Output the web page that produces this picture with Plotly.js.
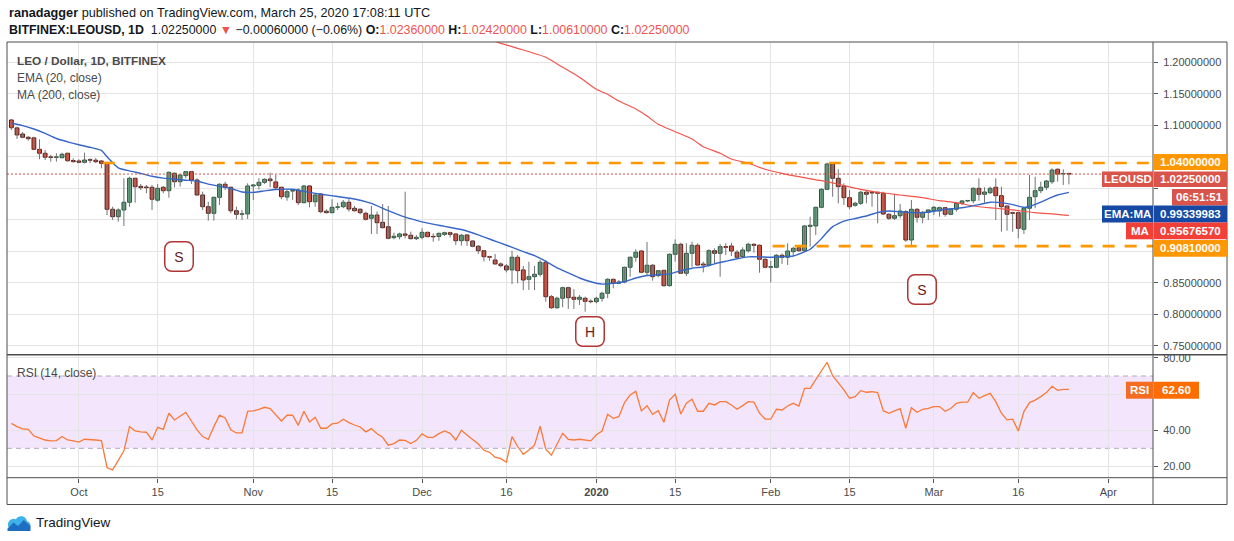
<!DOCTYPE html>
<html><head><meta charset="utf-8">
<script src="https://cdn.plot.ly/plotly-3.0.1.min.js"></script>
<style>html,body{margin:0;padding:0;background:#fff;}#wrap{position:relative;width:1234px;height:541px;overflow:hidden}#logo{position:absolute;left:7px;top:514px}</style>
</head><body>
<div id="wrap"><div id="chart"></div>
<svg id="logo" width="24" height="17" viewBox="0 0 24 17"><path d="M4.6 16 H19 a4.4 4.4 0 0 0 0.9-8.7 A6 6 0 0 0 8.8 5.2 A4.7 4.7 0 0 0 4.6 16 Z" fill="#3fb2e9"/><path d="M0.5 14.5 L6.5 8.5 L11 12 L16.8 6 L23.5 12 L23.5 17 L0.5 17 Z" fill="#1d6ec0"/></svg>
</div>
<script>
// ---------- data ----------
const startDate = '2019-09-19';   // first daily candle
const openP = [1.1084,1.0958,1.0861,1.0809,1.0800,1.0618,1.0555,1.0495,1.0490,1.0485,
1.0555,1.0440,1.0433,1.0412,1.0448,1.0445,1.0433,1.0405,0.9666,0.9548,
0.9655,0.9777,1.0158,1.0030,1.0020,1.0015,0.9810,1.0015,0.9961,1.0237,
1.0104,1.0200,1.0263,1.0131,0.9893,0.9707,0.9602,0.9856,1.0063,1.0015,
0.9643,0.9586,0.9592,1.0036,1.0045,1.0094,1.0147,1.0100,1.0015,0.9860,
0.9955,0.9972,0.9771,1.0036,0.9786,0.9909,0.9635,0.9612,0.9697,0.9707,
0.9777,0.9682,0.9666,0.9602,0.9523,0.9575,0.9459,0.9389,0.9215,0.9231,
0.9274,0.9253,0.9199,0.9221,0.9300,0.9231,0.9234,0.9268,0.9294,0.9274,
0.9167,0.9258,0.9162,0.9079,0.9008,0.8913,0.8861,0.8798,0.8766,0.8703,
0.8904,0.8703,0.8554,0.8596,0.8634,0.8824,0.8278,0.8103,0.8253,0.8421,
0.8269,0.8237,0.8253,0.8205,0.8199,0.8253,0.8332,0.8554,0.8491,0.8512,
0.8745,0.8904,0.9004,0.8666,0.8777,0.8612,0.8697,0.8453,0.8951,0.9110,
0.8650,0.8967,0.9094,0.8797,0.8781,0.9008,0.8967,0.9072,0.9083,0.8983,
0.8913,0.9008,0.9110,0.9094,0.8872,0.8745,0.8745,0.8935,0.8904,0.8993,
0.9056,0.9008,0.9395,0.9401,0.9697,0.9983,1.0385,1.0158,1.0036,0.9850,
0.9729,0.9761,0.9936,0.9929,0.9936,0.9920,0.9586,0.9523,0.9564,0.9628,
0.9178,0.9666,0.9539,0.9618,0.9643,0.9640,0.9691,0.9586,0.9666,0.9761,
0.9798,0.9802,0.9999,0.9904,0.9929,1.0015,0.9882,0.9718,0.9612,0.9612,
0.9348,0.9682,0.9866,0.9961,1.0015,1.0104,1.0301,1.0226,1.0236];
const highP = [1.1100,1.0977,1.0893,1.0830,1.0818,1.0777,1.0607,1.0528,1.0555,1.0565,
1.0565,1.0476,1.0460,1.0565,1.0476,1.0480,1.0448,1.0422,0.9707,0.9682,
1.0158,1.0183,1.0165,1.0067,1.0052,1.0052,1.0067,1.0036,1.0263,1.0253,
1.0226,1.0274,1.0274,1.0158,0.9945,0.9786,0.9866,1.0078,1.0104,1.0025,
0.9707,0.9655,1.0078,1.0067,1.0158,1.0158,1.0247,1.0210,1.0025,0.9983,
0.9983,0.9999,1.0052,1.0052,0.9920,0.9920,0.9666,0.9825,0.9771,0.9813,
0.9840,0.9718,0.9682,0.9628,0.9718,0.9628,0.9750,0.9718,0.9294,0.9294,
0.9945,0.9310,0.9258,0.9364,0.9310,0.9284,0.9294,0.9310,0.9310,0.9284,
0.9274,0.9274,0.9178,0.9099,0.9019,0.8929,0.8956,0.8823,0.8798,0.9008,
0.8940,0.8766,0.8834,0.8766,0.8861,0.8861,0.8305,0.8278,0.8437,0.8437,
0.8396,0.8305,0.8278,0.8237,0.8278,0.8358,0.8570,0.8564,0.8543,0.8755,
0.8914,0.9031,0.9019,0.9147,0.8798,0.8702,0.8702,0.8967,0.9189,0.9135,
0.9126,0.9151,0.9126,0.8834,0.9031,0.9046,0.9115,0.9126,0.9135,0.9019,
0.9062,0.9135,0.9126,0.9110,0.8888,0.8845,0.8956,0.8967,0.9126,0.9072,
0.9072,0.9417,0.9548,0.9707,0.9999,1.0406,1.0406,1.0301,1.0078,0.9972,
0.9786,0.9961,0.9961,0.9945,0.9945,0.9945,0.9602,0.9893,0.9750,0.9655,
0.9813,0.9682,0.9639,0.9666,0.9718,0.9707,0.9697,0.9682,0.9786,0.9813,
0.9813,1.0015,1.0158,1.0015,1.0025,1.0158,1.0025,0.9718,0.9628,0.9628,
0.9697,1.0210,1.0183,1.0104,1.0131,1.0316,1.0316,1.0301,1.0242];
const lowP = [1.0925,1.0782,1.0793,1.0755,1.0607,1.0460,1.0448,1.0422,1.0422,1.0476,
1.0422,1.0406,1.0396,1.0396,1.0396,1.0400,1.0317,0.9575,0.9496,0.9469,
0.9401,0.9707,0.9771,0.9972,0.9920,0.9655,0.9786,0.9920,0.9850,1.0015,
1.0025,1.0158,1.0068,0.9877,0.9655,0.9485,0.9485,0.9734,0.9972,0.9602,
0.9507,0.9496,0.9512,0.9813,0.9983,1.0067,1.0015,0.9972,0.9825,0.9802,
0.9813,0.9734,0.9761,0.9697,0.9707,0.9602,0.9602,0.9602,0.9655,0.9682,
0.9628,0.9628,0.9586,0.9485,0.9274,0.9274,0.9364,0.9189,0.9189,0.9189,
0.9205,0.9189,0.9178,0.9189,0.9221,0.9151,0.9167,0.9242,0.9221,0.9099,
0.9088,0.9083,0.9063,0.8956,0.8839,0.8850,0.8787,0.8744,0.8664,0.8480,
0.8491,0.8384,0.8384,0.8384,0.8596,0.8199,0.8083,0.8083,0.8110,0.8083,
0.8083,0.8146,0.8040,0.8173,0.8173,0.8199,0.8253,0.8411,0.8475,0.8490,
0.8596,0.8834,0.8650,0.8607,0.8532,0.8586,0.8437,0.8437,0.8834,0.8639,
0.8607,0.8754,0.8766,0.8664,0.8755,0.8798,0.8596,0.8940,0.8924,0.8888,
0.8904,0.8977,0.8977,0.8659,0.8729,0.8506,0.8729,0.8798,0.8781,0.8924,
0.8993,0.8993,0.9072,0.9258,0.9682,0.9972,0.9866,0.9761,0.9734,0.9666,
0.9707,0.9734,0.9761,0.9707,0.9443,0.9575,0.9496,0.9496,0.9523,0.9151,
0.9088,0.9453,0.9443,0.9496,0.9575,0.9548,0.9548,0.9575,0.9628,0.9734,
0.9777,0.9761,0.9802,0.9771,0.9909,0.9496,0.9310,0.9326,0.9310,0.9205,
0.9274,0.9496,0.9682,0.9920,0.9972,1.0068,1.0104,1.0052,1.0061];
const closeP = [1.0961,1.0846,1.0809,1.0787,1.0618,1.0555,1.0492,1.0490,1.0492,1.0539,
1.0437,1.0422,1.0412,1.0448,1.0445,1.0422,1.0396,0.9666,0.9548,0.9655,
0.9777,1.0158,1.0025,1.0009,1.0009,0.9825,0.9999,0.9961,1.0253,1.0104,
1.0210,1.0263,1.0131,0.9893,0.9707,0.9602,0.9856,1.0063,1.0015,0.9643,
0.9586,0.9592,1.0036,1.0052,1.0094,1.0142,1.0120,1.0009,0.9866,0.9945,
0.9961,0.9771,1.0036,0.9786,0.9893,0.9628,0.9612,0.9697,0.9700,0.9777,
0.9670,0.9643,0.9612,0.9507,0.9575,0.9453,0.9374,0.9205,0.9237,0.9274,
0.9253,0.9199,0.9221,0.9300,0.9231,0.9228,0.9284,0.9294,0.9268,0.9167,
0.9253,0.9167,0.9079,0.9008,0.8913,0.8905,0.8798,0.8771,0.8703,0.8904,
0.8691,0.8543,0.8596,0.8634,0.8824,0.8278,0.8103,0.8253,0.8421,0.8262,
0.8237,0.8269,0.8205,0.8199,0.8253,0.8332,0.8554,0.8491,0.8512,0.8745,
0.8904,0.8983,0.8666,0.8777,0.8596,0.8691,0.8453,0.8951,0.9110,0.8650,
0.8967,0.9094,0.8781,0.8781,0.9008,0.8967,0.9072,0.9062,0.9004,0.8904,
0.9019,0.9110,0.9094,0.8872,0.8745,0.8755,0.8935,0.8904,0.9004,0.9046,
0.9008,0.9401,0.9412,0.9697,0.9983,1.0385,1.0158,1.0025,0.9850,0.9707,
0.9761,0.9936,0.9904,0.9925,0.9920,0.9591,0.9523,0.9564,0.9639,0.9178,
0.9666,0.9539,0.9618,0.9655,0.9697,0.9691,0.9586,0.9666,0.9761,0.9798,
0.9802,0.9999,0.9904,0.9940,0.9999,0.9882,0.9707,0.9586,0.9602,0.9364,
0.9682,0.9856,0.9961,1.0015,1.0115,1.0289,1.0226,1.0231,1.0225];
const rsiVal = [43.8,42.0,40.7,40.5,36.9,35.6,34.6,34.1,34.3,36.5,
34.6,34.1,33.4,35.0,35.0,34.6,34.3,19.4,18.1,23.6,
28.6,42.0,39.6,39.1,38.9,34.6,41.6,40.5,49.4,45.7,
47.9,49.9,45.1,40.2,36.5,35.0,42.0,48.3,46.8,40.2,
38.5,38.5,50.5,50.7,51.6,52.7,52.0,48.5,45.1,48.3,
48.3,42.7,50.5,44.6,47.2,41.1,41.1,43.5,43.9,46.1,
44.2,42.9,41.8,39.1,40.9,38.0,36.1,31.7,32.6,34.6,
34.4,32.6,34.4,38.0,36.1,36.1,38.1,39.6,38.3,34.6,
40.0,37.4,35.0,32.4,28.9,27.8,25.1,24.3,22.3,36.5,
31.0,26.7,29.1,31.7,42.2,29.5,26.2,31.9,38.3,35.0,
34.6,35.0,34.6,34.1,37.5,39.6,48.8,46.6,47.5,55.3,
59.5,61.5,50.7,53.6,48.8,50.8,44.4,56.7,59.9,49.0,
54.9,57.1,50.5,50.5,54.9,54.0,55.8,55.8,54.0,51.6,
53.6,55.8,55.5,49.4,46.2,46.1,51.6,51.2,53.4,54.9,
53.4,63.2,63.2,67.8,72.8,77.6,70.2,66.5,62.3,57.7,
58.6,61.9,61.0,61.3,60.8,50.8,49.4,50.7,52.0,41.1,
52.5,49.9,51.6,52.1,53.1,53.1,50.5,52.0,54.9,55.5,
55.5,60.8,57.7,59.1,60.4,55.8,49.4,45.7,46.1,39.6,
50.3,55.3,56.7,58.6,60.8,64.3,62.1,62.6,62.6];
// EMA(20): day number (0 = startDate) and value
const emaDay = [0,2,4,6,8,10,12,14,16,17,19,21,23,25,27,29,31,33,35,37,39,41,43,45,47,50,52,55,58,61,64,67,70,72,74,77,80,83,86,88,91,93,95,97,99,101,103,105,107,109,111,113,115,117,119,121,123,125,127,129,131,133,135,137,139,141,142,143,144,145,146,147,148,150,152,154,156,158,160,162,164,166,168,170,172,174,176,178,180,181,183,185,186,188];
const emaVal = [1.1031,1.0995,1.0941,1.0872,1.0790,1.0737,1.0690,1.0650,1.0600,1.0501,1.0325,1.0275,1.0237,1.0190,1.0160,1.0142,1.0128,1.0115,1.0065,1.0030,0.9995,0.9940,0.9935,0.9958,0.9980,0.9983,0.9950,0.9905,0.9868,0.9830,0.9760,0.9643,0.9540,0.9490,0.9445,0.9395,0.9345,0.9260,0.9160,0.9095,0.8993,0.8930,0.8840,0.8735,0.8655,0.8575,0.8515,0.8478,0.8491,0.8516,0.8575,0.8615,0.8625,0.8640,0.8690,0.8730,0.8750,0.8800,0.8840,0.8880,0.8910,0.8910,0.8905,0.8913,0.8924,0.8990,0.9031,0.9110,0.9200,0.9300,0.9390,0.9440,0.9478,0.9520,0.9560,0.9615,0.9639,0.9628,0.9612,0.9612,0.9635,0.9665,0.9680,0.9705,0.9740,0.9777,0.9772,0.9740,0.9697,0.9710,0.9780,0.9860,0.9893,0.99339983];
// MA(200)
const maDay = [86,87,90,95,98,101,104,106,108,111,113,115,118,121,123,126,128,131,134,137,140,144,147,151,154,158,162,165,168,171,175,178,182,186,188];
const maVal = [1.2330,1.2301,1.2222,1.2079,1.1920,1.1762,1.1571,1.1492,1.1385,1.1258,1.1147,1.1015,1.0898,1.0782,1.0660,1.0555,1.0464,1.0396,1.0301,1.0237,1.0183,1.0120,1.0063,0.9983,0.9936,0.9893,0.9850,0.9802,0.9771,0.9718,0.9682,0.9655,0.9612,0.9586,0.9567657];
const levelPrices = [1.04, 0.9081];                    // horizontal support / resistance
const levelStart = ['2019-10-05 06:00', '2020-02-01 08:00'];
const patternText = ['S', 'H', 'S'];
const patternDate = ['2019-10-18 17:00', '2019-12-30 21:00', '2020-02-27 21:00'];
const patternPrice = [0.891, 0.7733, 0.840];
const tickDates = ['2019-10-01','2019-10-15','2019-11-01','2019-11-15','2019-12-01','2019-12-16','2020-01-01','2020-01-15','2020-02-01','2020-02-15','2020-03-01','2020-03-16','2020-04-01'];
const tickText = ['Oct','15','Nov','15','Dec','16','<b>2020</b>','15','Feb','15','Mar','16','Apr'];
const priceTicks = [0.75,0.80,0.85,0.90,0.95,1.00,1.05,1.10,1.15,1.20];
const priceTickText = ['0.75000000','0.80000000','0.85000000','','','','','1.10000000','1.15000000','1.20000000']; // the rest sit under the value labels
const rsiTicks = [20,40,60,80];
const rsiTickText = ['20.00','40.00','','80.00'];
const rsiLevels = [30, 70];
const countdown = '06:51:51';

// ---------- helpers ----------
function dayToDate(d){
  const t = Date.UTC(2019,8,19) + d*86400000;
  const z = new Date(t);
  return z.getUTCFullYear()+'-'+String(z.getUTCMonth()+1).padStart(2,'0')+'-'+String(z.getUTCDate()).padStart(2,'0');
}
const n = closeP.length;
const dates = closeP.map((_,i)=>dayToDate(i));
const PL=7, PW=1146, PT=42, PH=436;
const px = x => (x-PL)/PW;
const py = y => (PT+PH-y)/PH;
const xRange = ['2019-09-18 05:14','2020-04-08 22:48'];
const UP='#6ba583', DN='#d75442', UPB='#225437', DNB='#5b1a13';
const f8 = v => v.toFixed(8);

const wx=[], wy=[];
for(let i=0;i<n;i++){ wx.push(dates[i],dates[i],null); wy.push(lowP[i],highP[i],null); }
const base=[], hgt=[], fc=[], lc=[];
for(let i=0;i<n;i++){
  const up = closeP[i]>=openP[i];
  base.push(Math.min(openP[i],closeP[i]));
  hgt.push(Math.max(Math.abs(closeP[i]-openP[i]),0.0008));
  fc.push(up?UP:DN); lc.push(up?UPB:DNB);
}

const traces = [
  {type:'scatter',mode:'lines',x:wx,y:wy,xaxis:'x',yaxis:'y',line:{color:'#737375',width:1},hoverinfo:'skip'},
  {type:'bar',x:dates,y:hgt,base:base,xaxis:'x',yaxis:'y',width:0.68*86400000,
   marker:{color:fc,line:{color:lc,width:1}},hoverinfo:'skip'},
  {type:'scatter',mode:'lines',x:maDay.map(dayToDate),y:maVal,xaxis:'x',yaxis:'y',
   line:{color:'#f2544c',width:1.2,shape:'spline',smoothing:0.6},hoverinfo:'skip'},
  {type:'scatter',mode:'lines',x:emaDay.map(dayToDate),y:emaVal,xaxis:'x',yaxis:'y',
   line:{color:'#3766c9',width:1.4,shape:'spline',smoothing:0.5},hoverinfo:'skip'},
  {type:'scatter',mode:'lines',x:dates,y:rsiVal,xaxis:'x2',yaxis:'y2',
   line:{color:'#f97a38',width:1.3},hoverinfo:'skip'}
];

const shapes = [];
shapes.push({type:'rect',xref:'paper',yref:'y2',x0:0,x1:1,y0:rsiLevels[0],y1:rsiLevels[1],fillcolor:'rgba(155,47,230,0.12)',line:{width:0},layer:'between'});
rsiLevels.forEach(v=>shapes.push({type:'line',xref:'paper',yref:'y2',x0:0,x1:1,y0:v,y1:v,line:{color:'#b3a8ba',width:1,dash:'5px,4px'},layer:'between'}));
levelPrices.forEach((v,i)=>shapes.push({type:'line',xref:'x',yref:'y',x0:levelStart[i],x1:xRange[1],y0:v,y1:v,line:{color:'#ff9800',width:2.6,dash:'12px,10px'},layer:'above'}));
shapes.push({type:'line',xref:'paper',yref:'y',x0:0,x1:1,y0:closeP[n-1],y1:closeP[n-1],line:{color:'#d75442',width:1,dash:'2px,2px'},layer:'above'});
const frame='#4d4d4d';
shapes.push({type:'rect',xref:'paper',yref:'paper',x0:0,x1:px(1227),y0:py(504.5),y1:py(42),line:{color:frame,width:1},layer:'above'});
shapes.push({type:'line',xref:'paper',yref:'paper',x0:0,x1:px(1227),y0:py(354.8),y1:py(354.8),line:{color:frame,width:1.6},layer:'above'});
shapes.push({type:'line',xref:'paper',yref:'paper',x0:0,x1:px(1227),y0:py(477.7),y1:py(477.7),line:{color:frame,width:1},layer:'above'});
shapes.push({type:'line',xref:'paper',yref:'paper',x0:1,x1:1,y0:py(504.5),y1:py(42),line:{color:frame,width:1},layer:'above'});

const lastC = closeP[n-1];
const boxes = [
  {x0:1154,x1:1227,y0:154,y1:170,c:'#ff9800',t:f8(levelPrices[0])},
  {x0:1102,x1:1153,y0:171.5,y1:187,c:'#d9544a',t:'LEOUSD'},
  {x0:1154,x1:1227,y0:171.5,y1:187,c:'#d9544a',t:f8(lastC)},
  {x0:1172,x1:1227,y0:189,y1:205.5,c:'#d9544a',t:countdown},
  {x0:1102,x1:1153,y0:205.5,y1:222.5,c:'#1549a3',t:'EMA:MA'},
  {x0:1154,x1:1227,y0:205.5,y1:222.5,c:'#1549a3',t:f8(emaVal[emaVal.length-1])},
  {x0:1126,x1:1153,y0:222.5,y1:239.3,c:'#f23f38',t:'MA'},
  {x0:1154,x1:1227,y0:222.5,y1:239.3,c:'#f23f38',t:f8(maVal[maVal.length-1])},
  {x0:1154,x1:1227,y0:240,y1:256.7,c:'#ff9800',t:f8(levelPrices[1])},
  {x0:1126,x1:1153,y0:381.7,y1:398.7,c:'#f46c22',t:'RSI'},
  {x0:1154,x1:1199,y0:381.7,y1:398.7,c:'#ff6d00',t:rsiVal[n-1].toFixed(2)}
];
const annotations = [];
boxes.forEach(b=>{
  shapes.push({type:'rect',xref:'paper',yref:'paper',x0:px(b.x0),x1:px(b.x1),y0:py(b.y1),y1:py(b.y0),fillcolor:b.c,line:{width:0},layer:'above'});
  annotations.push({xref:'paper',yref:'paper',x:px((b.x0+b.x1)/2),y:py((b.y0+b.y1)/2),xanchor:'center',yanchor:'middle',showarrow:false,text:b.t,font:{size:11.5,color:'#ffffff',weight:'bold'}});
});

const chg = lastC - closeP[n-2];
const pct = chg/closeP[n-2]*100;
const RED='#ef5350';
const minus = v => (v<0?'\u2212':'+');
const hdr2 = '<b>BITFINEX:LEOUSD, 1D</b>  '+f8(lastC)+' <span style="color:'+RED+'">\u25BC</span> '+minus(chg)+Math.abs(chg).toFixed(8)+' ('+minus(chg)+Math.abs(pct).toFixed(2)+'%) '+
  '<b>O:</b><span style="color:'+RED+'">'+f8(openP[n-1])+'</span> <b>H:</b><span style="color:'+RED+'">'+f8(highP[n-1])+'</span> '+
  '<b>L:</b><span style="color:'+RED+'">'+f8(lowP[n-1])+'</span> <b>C:</b><span style="color:'+RED+'">'+f8(lastC)+'</span>';
const txt = (x,y,t,size,color,extra)=>Object.assign({xref:'paper',yref:'paper',x:px(x),y:py(y),xanchor:'left',yanchor:'middle',showarrow:false,text:t,font:{size:size,color:color}},extra||{});
annotations.push(txt(7,12.5,'<b>ranadagger</b> published on TradingView.com, March 25, 2020 17:08:11 UTC',12.7,'#131722'));
annotations.push(txt(7,30,hdr2,12.4,'#131722'));
annotations.push(txt(15,61,'<b>LEO / Dollar, 1D, BITFINEX</b>',11.8,'#4a4a4a'));
annotations.push(txt(15,78,'EMA (20, close)',12,'#4a4a4a'));
annotations.push(txt(15,95,'MA (200, close)',12,'#4a4a4a'));
annotations.push(txt(15,373,'RSI (14, close)',12,'#4a4a4a'));
annotations.push(txt(34,522.5,'TradingView',13.5,'#131722'));
patternText.forEach((t,i)=>annotations.push({xref:'x',yref:'y',x:patternDate[i],y:patternPrice[i],text:t,showarrow:false,
  font:{size:14,color:'#6b1b1b'},bgcolor:'#ffffff',bordercolor:'#b03434',borderwidth:1.5,borderpad:2,width:23,height:24,xanchor:'center',yanchor:'middle'}));

const grid='#e4e4e4', tickc='#555', tf={size:11,color:'#4a4a4a'};
const layout = {
  width:1234,height:541,margin:{l:PL,r:1234-PL-PW,t:PT,b:541-PT-PH,pad:0},
  paper_bgcolor:'#ffffff',plot_bgcolor:'#ffffff',showlegend:false,barmode:'overlay',
  font:{family:'Liberation Sans, Arial, sans-serif',color:'#4a4a4a'},
  xaxis:{domain:[0,1],anchor:'y',type:'date',range:xRange,tickvals:tickDates,showticklabels:false,ticks:'',showgrid:true,gridcolor:grid,zeroline:false,showline:false,fixedrange:true},
  xaxis2:{domain:[0,1],anchor:'y2',type:'date',range:xRange,matches:'x',tickvals:tickDates,ticktext:tickText,ticks:'outside',ticklen:4,tickcolor:tickc,tickfont:tf,showgrid:true,gridcolor:grid,zeroline:false,showline:false},
  yaxis:{domain:[py(354),1],anchor:'x',side:'right',range:[0.7368,1.2322],tickvals:priceTicks,ticktext:priceTickText,ticks:'outside',ticklen:4,tickcolor:tickc,tickfont:tf,ticklabelstandoff:3,showgrid:true,gridcolor:grid,zeroline:false,showline:false},
  yaxis2:{domain:[0,py(355.5)],anchor:'x2',side:'right',range:[13.58,81.34],tickvals:rsiTicks,ticktext:rsiTickText,ticks:'outside',ticklen:4,tickcolor:tickc,tickfont:tf,ticklabelstandoff:3,showgrid:true,gridcolor:grid,zeroline:false,showline:false},
  shapes:shapes,annotations:annotations
};
Plotly.newPlot('chart',traces,layout,{staticPlot:true,displayModeBar:false}).then(()=>{
  document.querySelectorAll('#chart .annotation').forEach(g=>{
    const t=(g.textContent||'').trim();
    if(t==='S'||t==='H'){const r=g.querySelector('rect.bg'); if(r){r.setAttribute('rx',7);r.setAttribute('ry',7);}}
  });
});
</script>
</body></html>
